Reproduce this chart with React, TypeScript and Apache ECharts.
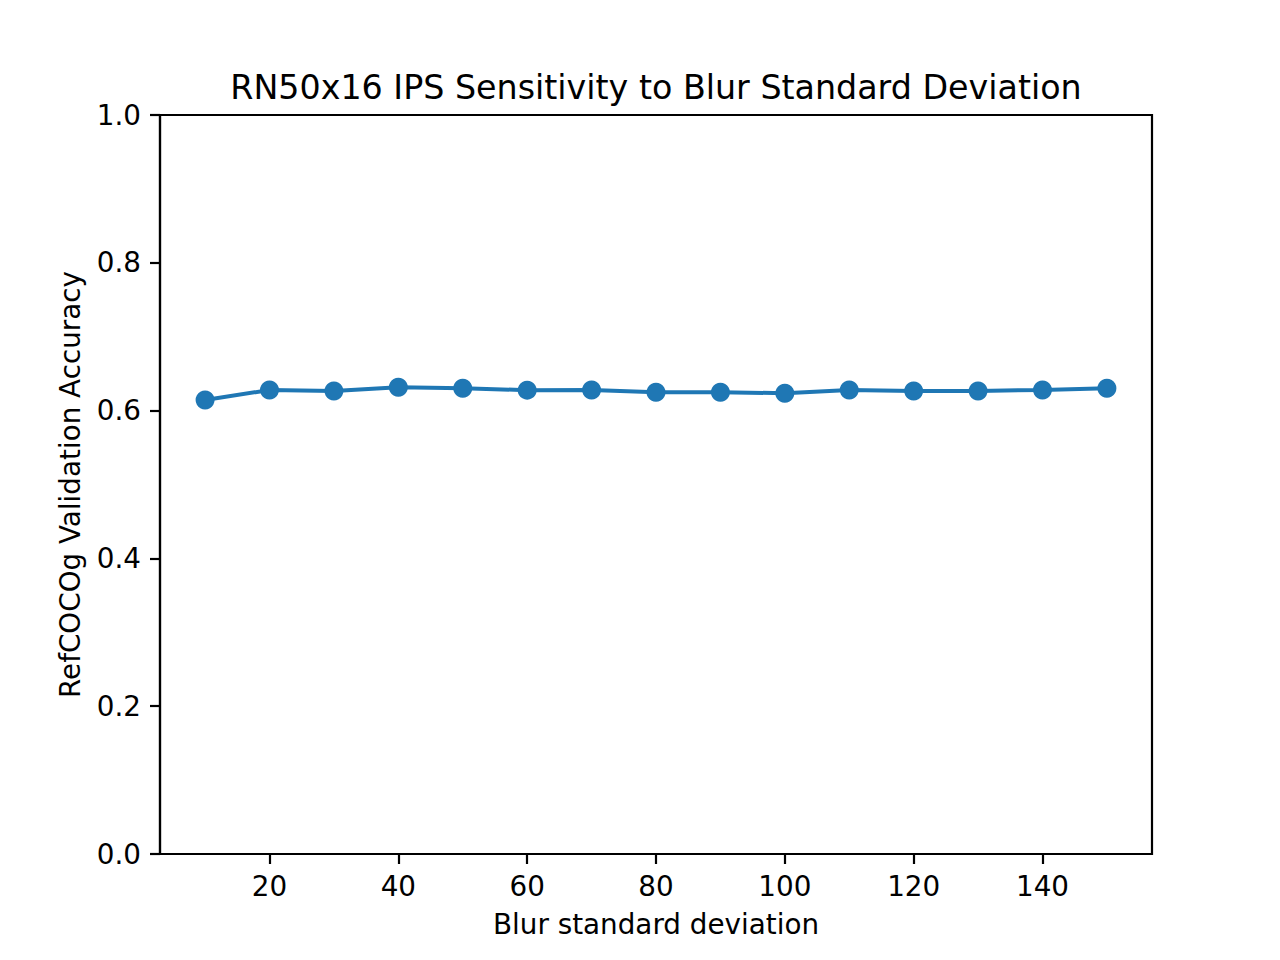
import React, { useEffect, useRef } from "react";
import * as echarts from "echarts";

const blurStd = [10, 20, 30, 40, 50, 60, 70, 80, 90, 100, 110, 120, 130, 140, 150];
const accuracy = [0.6143, 0.6279, 0.6265, 0.6316, 0.6302, 0.6277, 0.628, 0.6249, 0.6247, 0.6236, 0.628, 0.6265, 0.6265, 0.628, 0.6302];
const xTicks = [20, 40, 60, 80, 100, 120, 140];

const titleText = "RN50x16 IPS Sensitivity to Blur Standard Deviation";
const xName = "Blur standard deviation";
const yName = "RefCOCOg Validation Accuracy";

const FONT = "DejaVu Sans";

export default function App() {
  const ref = useRef<HTMLDivElement>(null);
  useEffect(() => {
    document.body.style.margin = "0";
    if (!ref.current) return;
    const chart = echarts.init(ref.current, null, { renderer: "svg" });
    const left = 160, right = 1152, top = 115, bottom = 854;
    chart.setOption({
      animation: false,
      backgroundColor: "#ffffff",
      grid: {
        left,
        top,
        width: right - left,
        height: bottom - top,
        show: true,
        borderColor: "#000",
        borderWidth: 2.2,
        backgroundColor: "transparent",
      },
      xAxis: {
        type: "value",
        min: 3,
        max: 157,
        axisLine: { show: true, lineStyle: { color: "#000", width: 2.2 } },
        axisTick: { show: true, length: 10, lineStyle: { color: "#000", width: 2.2 }, customValues: xTicks },
        axisLabel: {
          show: true,
          customValues: xTicks,
          margin: 18,
          color: "#000",
          fontFamily: FONT,
          fontSize: 27.8,
          lineHeight: 28,
        },
        splitLine: { show: false },
      },
      yAxis: {
        type: "value",
        min: 0,
        max: 1,
        interval: 0.2,
        axisLine: { show: true, lineStyle: { color: "#000", width: 2.2 } },
        axisTick: { show: true, length: 10, lineStyle: { color: "#000", width: 2.2 } },
        axisLabel: {
          margin: 19,
          color: "#000",
          fontFamily: FONT,
          fontSize: 27.8,
          formatter: (v: number) => v.toFixed(1),
        },
        splitLine: { show: false },
      },
      graphic: [
        {
          type: "text",
          x: 656,
          y: 87,
          style: {
            text: titleText,
            fill: "#000",
            fontFamily: FONT,
            fontSize: 33.3,
            align: "center",
            verticalAlign: "middle",
            textAlign: "center",
            textVerticalAlign: "middle",
          },
        },
        {
          type: "text",
          x: 656,
          y: 924,
          style: {
            text: xName,
            fill: "#000",
            fontFamily: FONT,
            fontSize: 27.8,
            align: "center",
            verticalAlign: "middle",
            textAlign: "center",
            textVerticalAlign: "middle",
          },
        },
        {
          type: "text",
          x: 70,
          y: 484.5,
          rotation: Math.PI / 2,
          style: {
            text: yName,
            fill: "#000",
            fontFamily: FONT,
            fontSize: 27.8,
            align: "center",
            verticalAlign: "middle",
            textAlign: "center",
            textVerticalAlign: "middle",
          },
        },
      ],
      series: [
        {
          type: "line",
          data: blurStd.map((x, i) => [x, accuracy[i]]),
          color: "#1f77b4",
          lineStyle: { color: "#1f77b4", width: 4 },
          itemStyle: { color: "#1f77b4" },
          symbol: "circle",
          symbolSize: 19,
          showSymbol: true,
        },
      ],
    });
    return () => chart.dispose();
  }, []);
  return <div ref={ref} style={{ width: 1280, height: 960 }} />;
}
